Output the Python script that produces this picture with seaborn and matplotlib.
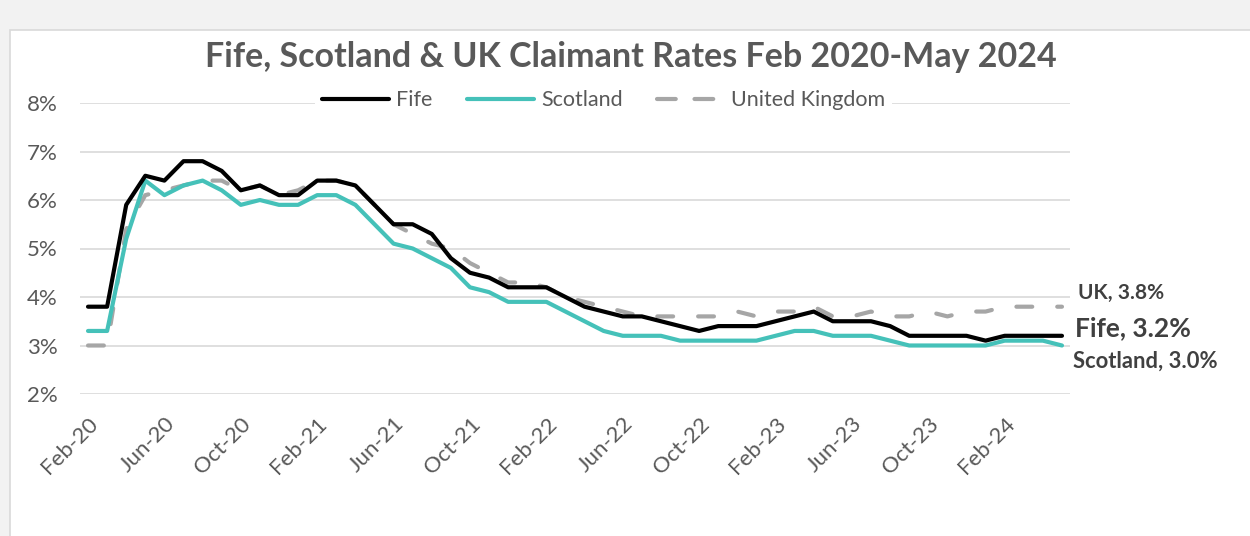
import numpy as np
import pandas as pd
import matplotlib
matplotlib.use('Agg')
import matplotlib.pyplot as plt
import seaborn as sns
from matplotlib.patches import Rectangle
from matplotlib.lines import Line2D

# Monthly claimant rates (%), Feb 2020 - May 2024
months = pd.date_range('2020-02-01', '2024-05-01', freq='MS')
month_labels = [d.strftime('%b-%y') for d in months]

fife = [3.8, 3.8, 5.9, 6.5, 6.4, 6.8, 6.8, 6.6, 6.2, 6.3, 6.1, 6.1, 6.4, 6.4, 6.3, 5.9,
        5.5, 5.5, 5.3, 4.8, 4.5, 4.4, 4.2, 4.2, 4.2, 4.0, 3.8, 3.7, 3.6, 3.6, 3.5, 3.4,
        3.3, 3.4, 3.4, 3.4, 3.5, 3.6, 3.7, 3.5, 3.5, 3.5, 3.4, 3.2, 3.2, 3.2, 3.2, 3.1,
        3.2, 3.2, 3.2, 3.2]
scotland = [3.3, 3.3, 5.2, 6.4, 6.1, 6.3, 6.4, 6.2, 5.9, 6.0, 5.9, 5.9, 6.1, 6.1, 5.9, 5.5,
            5.1, 5.0, 4.8, 4.6, 4.2, 4.1, 3.9, 3.9, 3.9, 3.7, 3.5, 3.3, 3.2, 3.2, 3.2, 3.1,
            3.1, 3.1, 3.1, 3.1, 3.2, 3.3, 3.3, 3.2, 3.2, 3.2, 3.1, 3.0, 3.0, 3.0, 3.0, 3.0,
            3.1, 3.1, 3.1, 3.0]
uk = [3.0, 3.0, 5.4, 6.1, 6.2, 6.3, 6.4, 6.4, 6.2, 6.3, 6.1, 6.2, 6.4, 6.4, 6.3, 5.9,
      5.5, 5.3, 5.1, 5.0, 4.7, 4.5, 4.3, 4.3, 4.2, 4.0, 3.9, 3.8, 3.7, 3.6, 3.6, 3.6,
      3.6, 3.6, 3.7, 3.6, 3.7, 3.7, 3.8, 3.6, 3.6, 3.7, 3.6, 3.6, 3.7, 3.6, 3.7, 3.7,
      3.8, 3.8, 3.8, 3.8]

df = pd.DataFrame({'idx': np.arange(len(months)), 'Fife': fife,
                   'Scotland': scotland, 'United Kingdom': uk})

sns.set_style('white')
plt.rcParams['font.family'] = ['Lato', 'DejaVu Sans']
txt = '#595959'
uk_dash = (3.8, 6.0)

fig = plt.figure(figsize=(12.5, 5.36), dpi=100, facecolor='#f2f2f2')
fig.patches.append(Rectangle((0.008, -0.1), 1.1, 1.0 - 30 / 536 + 0.1,
                             transform=fig.transFigure, facecolor='white',
                             edgecolor='#d9d9d9', linewidth=1.2, zorder=-10))

ax = fig.add_axes([80 / 1250, 1 - 394 / 536, 990 / 1250, 291 / 536])
ax.set_facecolor('none')

sns.lineplot(data=df, x='idx', y='United Kingdom', ax=ax, color='#a6a6a6',
             linewidth=3, label='United Kingdom', zorder=2)
ax.lines[-1].set_dashes(uk_dash)
ax.lines[-1].set_dash_capstyle('round')
sns.lineplot(data=df, x='idx', y='Scotland', ax=ax, color='#45c1b9',
             linewidth=3, label='Scotland', zorder=3)
sns.lineplot(data=df, x='idx', y='Fife', ax=ax, color='black',
             linewidth=3, label='Fife', zorder=4)
for ln in ax.lines:
    ln.set_solid_joinstyle('round')
    ln.set_dash_joinstyle('round')

ax.set_ylim(2, 8)
ax.set_xlim(-0.42, len(months) - 1 + 0.42)
ax.set_yticks(range(2, 9))
ax.set_yticklabels([f'{v}%' for v in range(2, 9)], color=txt, fontsize=16)
ticks = list(range(0, len(months), 4))
ax.set_xticks(ticks)
ax.set_xticklabels([month_labels[i] for i in ticks], rotation=45, ha='right',
                   rotation_mode='anchor', color=txt, fontsize=16)
ax.tick_params(axis='y', length=0, pad=16)
ax.tick_params(axis='x', length=0, pad=14)
ax.grid(axis='y', color='#d9d9d9', linewidth=1.2, zorder=0)
ax.set_axisbelow(True)
for s in ax.spines.values():
    s.set_visible(False)
ax.set_xlabel('')
ax.set_ylabel('')

handles = [Line2D([], [], color='black', linewidth=3, solid_capstyle='round'),
           Line2D([], [], color='#45c1b9', linewidth=3, solid_capstyle='round'),
           Line2D([], [], color='#a6a6a6', linewidth=3, dashes=(4.5, 4.5),
                  dash_capstyle='round')]
leg = ax.legend(handles, ['Fife', 'Scotland', 'United Kingdom'], ncol=3,
                loc='center', bbox_to_anchor=(0.529, 1.01), frameon=True,
                fontsize=15.5, handlelength=3.1, columnspacing=1.6,
                handletextpad=0.35, borderpad=0.3)
leg.get_frame().set_facecolor('white')
leg.get_frame().set_edgecolor('none')
leg.get_frame().set_alpha(1)
for t in leg.get_texts():
    t.set_color(txt)

fig.text(631 / 1250, 1 - 57 / 536, 'Fife, Scotland & UK Claimant Rates Feb 2020-May 2024',
         ha='center', va='center', fontsize=24.5, fontweight='bold', color=txt)

fig.text(1078 / 1250, 1 - 293 / 536, f'UK, {uk[-1]:.1f}%', ha='left', va='center',
         fontsize=15, fontweight='bold', color='#404040')
fig.text(1075 / 1250, 1 - 328 / 536, f'Fife, {fife[-1]:.1f}%', ha='left', va='center',
         fontsize=19, fontweight='bold', color='#404040')
fig.text(1073 / 1250, 1 - 361 / 536, f'Scotland, {scotland[-1]:.1f}%', ha='left', va='center',
         fontsize=15.8, fontweight='bold', color='#404040')

fig.savefig('out.png', dpi=100, facecolor=fig.get_facecolor())
